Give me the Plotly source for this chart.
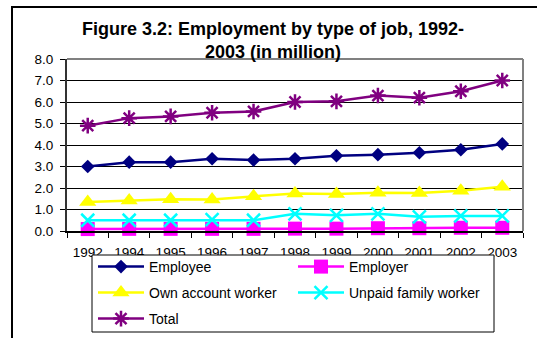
import plotly.graph_objects as go

# Employment by type of job (million persons)
years = ["1992", "1994", "1995", "1996", "1997", "1998", "1999", "2000", "2001", "2002", "2003"]
employee = [3.0, 3.2, 3.2, 3.36, 3.3, 3.36, 3.5, 3.55, 3.64, 3.78, 4.05]
employer = [0.09, 0.1, 0.1, 0.1, 0.1, 0.11, 0.11, 0.13, 0.13, 0.15, 0.15]
own_account = [1.35, 1.42, 1.48, 1.47, 1.62, 1.75, 1.72, 1.78, 1.77, 1.87, 2.06]
unpaid_family = [0.5, 0.5, 0.5, 0.53, 0.5, 0.8, 0.73, 0.8, 0.66, 0.7, 0.7]
total = [4.9, 5.25, 5.33, 5.5, 5.56, 6.0, 6.03, 6.3, 6.2, 6.5, 7.0]

series_names = ["Employee", "Employer", "Own account worker", "Unpaid family worker", "Total"]
y_ticks = [0, 1, 2, 3, 4, 5, 6, 7, 8]

W, H = 537, 338
L, R, T, B = 67, 523, 59, 231          # plot area in pixels
PW, PH = R - L, B - T

def px_x(p):
    return (p - L) / PW

def px_y(p):
    return (B - p) / PH

FONT = "Arial, 'Liberation Sans', sans-serif"

styles = [
    dict(color="#000080", symbol="diamond", size=10.5, lw=0),
    dict(color="#FF00FF", symbol="square", size=14, lw=0),
    dict(color="#FFFF00", symbol="triangle-up", size=15, lw=0),
    dict(color="#00FFFF", symbol="x-thin-open", size=13, lw=2.5),
    dict(color="#800080", symbol="asterisk-open", size=13, lw=2.5),
]
values = [employee, employer, own_account, unpaid_family, total]
legend_ids = ["legend", "legend2", "legend3", "legend4", "legend5"]

fig = go.Figure()
for name, vals, st, lg in zip(series_names, values, styles, legend_ids):
    marker = dict(symbol=st["symbol"], size=st["size"], color=st["color"])
    if st["lw"]:
        marker["line"] = dict(color=st["color"], width=st["lw"])
    fig.add_trace(go.Scatter(
        x=years, y=vals, name=name, mode="lines+markers",
        line=dict(color=st["color"], width=2.5),
        marker=marker, cliponaxis=False, legend=lg,
    ))

# legend entries laid out in two columns, three rows (container pixels)
cols_px = [93, 293]
rows_px = [267, 293, 319]
positions = [(0, 0), (1, 0), (0, 1), (1, 1), (0, 2)]
legend_layout = {}
for lg, (c, r) in zip(legend_ids, positions):
    legend_layout[lg] = dict(
        xref="container", yref="container",
        x=cols_px[c] / W, y=1 - rows_px[r] / H, xanchor="left", yanchor="middle",
        bgcolor="rgba(0,0,0,0)", borderwidth=0, itemwidth=46,
        font=dict(family=FONT, size=14, color="#000"),
    )

fig.update_layout(
    template="none",
    width=W, height=H,
    margin=dict(l=L, r=W - R, t=T, b=H - B, pad=0, autoexpand=False),
    paper_bgcolor="white", plot_bgcolor="white",
    showlegend=True,
    font=dict(family=FONT, color="#000"),
    title=dict(
        text="<b>Figure 3.2: Employment by type of job, 1992-<br>2003 (in million)</b>",
        x=273 / W, xanchor="center", y=1 - 35 / H, yanchor="top",
        font=dict(family=FONT, size=18, color="#000"),
    ),
    xaxis=dict(
        type="category", range=[-0.5, 10.5], tickson="boundaries",
        ticks="outside", ticklen=5, tickcolor="#000", tickwidth=1,
        showline=True, linecolor="#000", linewidth=2, showgrid=False,
        zeroline=False, automargin=False,
        tickfont=dict(family=FONT, size=13.5, color="#000"),
        ticklabelstandoff=8,
    ),
    yaxis=dict(
        range=[0, 8], tickvals=y_ticks, tickformat=".1f",
        ticks="outside", ticklen=5, tickcolor="#000", tickwidth=1,
        showline=True, linecolor="#333", linewidth=2,
        showgrid=True, gridcolor="#000", gridwidth=1, zeroline=False,
        automargin=False,
        tickfont=dict(family=FONT, size=13.5, color="#000"),
        ticklabelstandoff=4,
    ),
    **legend_layout,
)

shapes = [
    # outer chart frame
    dict(type="rect", xref="paper", yref="paper", x0=px_x(12), x1=px_x(560),
         y0=px_y(360), y1=px_y(7), line=dict(color="#000", width=2),
         fillcolor="rgba(0,0,0,0)", layer="below"),
    # plot area top and right edges
    dict(type="line", xref="paper", yref="paper", x0=0, x1=1, y0=1, y1=1,
         line=dict(color="#808080", width=2), layer="above"),
    dict(type="line", xref="paper", yref="paper", x0=1, x1=1, y0=0, y1=1,
         line=dict(color="#808080", width=2), layer="above"),
    # legend box
    dict(type="rect", xref="paper", yref="paper", x0=px_x(92), x1=px_x(494),
         y0=px_y(332), y1=px_y(255), line=dict(color="#000", width=1),
         fillcolor="white", layer="above"),
]
fig.update_layout(shapes=shapes)

fig.write_html("out.html")
